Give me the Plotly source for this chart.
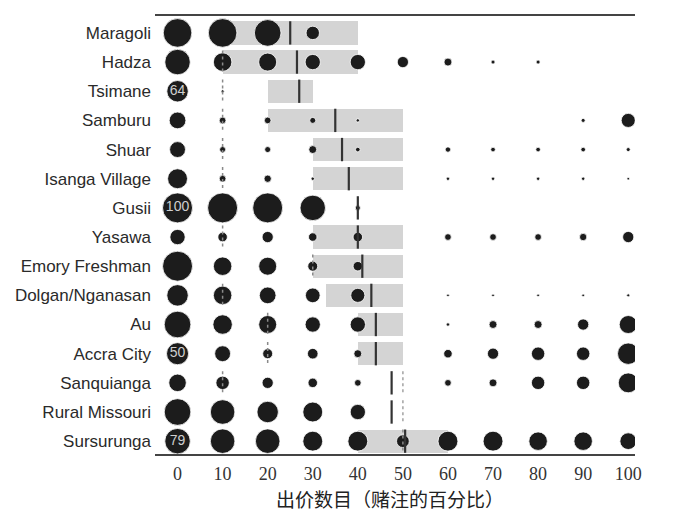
import math
import plotly.graph_objects as go

societies = ["Maragoli", "Hadza", "Tsimane", "Samburu", "Shuar", "Isanga Village",
             "Gusii", "Yasawa", "Emory Freshman", "Dolgan/Nganasan", "Au",
             "Accra City", "Sanquianga", "Rural Missouri", "Sursurunga"]
sample_n = [25, 31, 36, 31, 21, 30, 25, 34, 19, 30, 30, 30, 30, 26, 30]
offer_levels = [0, 10, 20, 30, 40, 50, 60, 70, 80, 90, 100]
tick_labels = ["0", "10", "20", "30", "40", "50", "60", "70", "80", "90", "100"]

# relative bubble size (share of responses) at each offer level, per society
freq = [
    [91, 91, 79, 20, None, None, None, None, None, None, None],      # Maragoli
    [72, 38, 36, 26, 26, 14, 7, 1.8, 1.8, None, None],               # Hadza
    [51, 1, None, None, None, None, None, None, None, None, None],   # Tsimane
    [31, 5, 5, 4, 1.3, None, None, None, None, 1.8, 22],             # Samburu
    [28, 4, 4, 7, 2.4, None, 3.2, 2.4, 2.4, 2.4, 1.8],               # Shuar
    [44, 5, 6, 1.3, None, None, 1.3, 1.3, 1.3, 1.3, 0.75],           # Isanga Village
    [100, 100, 100, 72, 2.8, None, None, None, None, None, None],    # Gusii
    [26, 10, 14, 8, 10, None, 5, 5, 5, 6, 14],                       # Yasawa
    [100, 38, 36, 11, 10, None, None, None, None, None, None],       # Emory Freshman
    [51, 38, 31, 24, 22, None, 0.75, 0.75, 0.75, 0.75, 1],           # Dolgan/Nganasan
    [79, 42, 36, 26, 26, None, 1.3, 7, 7, 14, 36],                   # Au
    [54, 28, 11, 12.5, 7, None, 8, 14, 20, 20, 51],                  # Accra City
    [34, 20, 14, 10, 5, None, 5, 7, 20, 20, 44],                     # Sanquianga
    [79, 67, 51, 44, 26, None, None, None, None, None, None],        # Rural Missouri
    [72, 67, 67, 44, 44, 18, 44, 44, 38, 38, 31],                    # Sursurunga
]
bubble_label = ["", "", "64", "", "", "", "100", "", "", "", "", "50", "", "", "79"]

offer_q1 = [10, 10, 20, 20, 30, 30, None, 30, 30, 33, 40, 40, 50, 50, 40]
offer_q3 = [40, 40, 30, 50, 50, 50, None, 50, 50, 50, 50, 50, 50, 50, 60]
offer_mean = [25, 26.5, 27, 35, 36.5, 38, 40, 40, 41, 43, 44, 44, 47.5, 47.5, 50.5]
mao_mean = [None, 10, 10, 10, 10, 10, None, 10, 30, 10, 20, 20, 10, None, 50]

rows = list(range(len(societies)))
HALF = 0.4

fig = go.Figure()

# interquartile bands of offers
bx, bbase, by = [], [], []
flat_x, flat_y = [], []
for r in rows:
    q1, q3 = offer_q1[r], offer_q3[r]
    if q1 is None:
        continue
    if q3 > q1:
        bx.append(q3 - q1); bbase.append(q1); by.append(r)
    else:
        flat_x += [q1, q1, None]; flat_y += [r - HALF, r + HALF, None]
fig.add_trace(go.Bar(x=bx, base=bbase, y=by, orientation="h", width=2 * HALF,
                     marker=dict(color="#d4d4d4", line=dict(width=0)),
                     hoverinfo="skip", showlegend=False))
fig.add_trace(go.Scatter(x=flat_x, y=flat_y, mode="lines",
                         line=dict(color="#a8a8a8", width=1.6, dash="dot"),
                         hoverinfo="skip", showlegend=False))

# bubbles
px, py, ps = [], [], []
for r in rows:
    for lv, v in zip(offer_levels, freq[r]):
        if v is None:
            continue
        px.append(lv); py.append(r); ps.append(3 * math.sqrt(v))
fig.add_trace(go.Scatter(x=px, y=py, mode="markers",
                         marker=dict(size=ps, sizemode="diameter", color="#1c1c1c", opacity=1,
                                     line=dict(color="white", width=0.8)),
                         hoverinfo="skip", showlegend=False))

# mean MAO (dotted)
mx, my = [], []
for r in rows:
    m = mao_mean[r]
    if m is None:
        continue
    mx += [m, m, None]; my += [r - HALF, r + HALF, None]
fig.add_trace(go.Scatter(x=mx, y=my, mode="lines",
                         line=dict(color="#8a8a8a", width=1.5, dash="dot"),
                         hoverinfo="skip", showlegend=False))

# mean offer (dark bar)
ox, oy = [], []
for r in rows:
    m = offer_mean[r]
    if m is None:
        continue
    ox += [m, m, None]; oy += [r - HALF, r + HALF, None]
fig.add_trace(go.Scatter(x=ox, y=oy, mode="lines",
                         line=dict(color="#333333", width=2.2),
                         hoverinfo="skip", showlegend=False))

# numbers in the first bubble
lx, ly, lt = [], [], []
for r in rows:
    if bubble_label[r]:
        lx.append(offer_levels[0]); ly.append(r); lt.append(bubble_label[r])
fig.add_trace(go.Scatter(x=lx, y=ly, mode="text", text=lt,
                         textfont=dict(family="Liberation Sans, Arial", size=14, color="#cfcfcf"),
                         hoverinfo="skip", showlegend=False))

for r in rows:
    fig.add_annotation(x=103.5, y=r, xref="x", yref="y", xanchor="left", yanchor="middle",
                       text="<i>n</i>=%d" % sample_n[r], showarrow=False,
                       font=dict(family="Liberation Serif, Times New Roman", size=18, color="#222"))

fig.add_annotation(x=47.2, y=-0.101, xref="x", yref="paper", xanchor="center", yanchor="middle",
                   text="出价数目（赌注的百分比）", showarrow=False,
                   font=dict(family="Noto Sans CJK SC", size=19, color="#222"))

fig.update_layout(
    width=688, height=504,
    margin=dict(l=147, r=61, t=6, b=58),
    paper_bgcolor="white", plot_bgcolor="white",
    bargap=0, showlegend=False,
    xaxis=dict(range=[-5, 101.5], tickvals=offer_levels, ticktext=tick_labels,
               showgrid=False, zeroline=False, showline=True, mirror=True,
               linecolor="#444", linewidth=1.5, ticks="", ticklabelstandoff=3,
               tickfont=dict(family="Liberation Serif, Times New Roman", size=18, color="#333")),
    yaxis=dict(range=[14.44, -0.58], tickvals=rows, ticktext=societies,
               showgrid=False, zeroline=False, showline=False, ticks="",
               ticklabelstandoff=3,
               tickfont=dict(family="Liberation Sans, Arial", size=17, color="#2a2a2a")),
)

fig.write_html("out.html")
